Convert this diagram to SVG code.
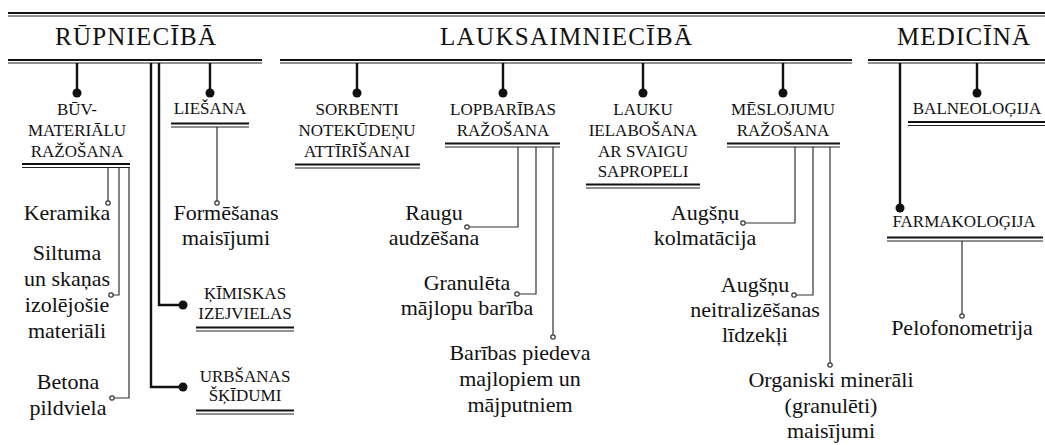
<svg xmlns="http://www.w3.org/2000/svg" width="1045" height="445" viewBox="0 0 1045 445">
<style>
.hd{font-family:"Liberation Serif","Times New Roman",serif;font-size:25px;fill:#111;text-anchor:middle}
.nd{font-family:"Liberation Serif","Times New Roman",serif;font-size:17px;fill:#111;text-anchor:middle}
.lf{font-family:"Liberation Serif","Times New Roman",serif;font-size:22px;fill:#111;text-anchor:middle}
.r1{stroke:#111;stroke-width:2;fill:none}
.r2{stroke:#222;stroke-width:1.2;fill:none}
.st{stroke:#111;stroke-width:2.4;fill:none}
.th{stroke:#333;stroke-width:1.2;fill:none}
.dot{fill:#111}
.oc{fill:#fff;stroke:#333;stroke-width:1.2}
</style>
<rect width="1045" height="445" fill="#fff"/>
<g id="top-rule">
<line class="r1" x1="8" y1="13" x2="1045" y2="13"/>
<line class="r2" x1="8" y1="16" x2="1045" y2="16"/>
</g>
<g id="h-rupnieciba">
<text class="hd" x="135.5" y="45" textLength="161" lengthAdjust="spacing">RŪPNIECĪBĀ</text>
<line class="r1" x1="8" y1="60" x2="262" y2="60"/>
<line class="r2" x1="8" y1="63" x2="262" y2="63"/>
</g>
<g id="h-lauksaimnieciba">
<text class="hd" x="566" y="45" textLength="252" lengthAdjust="spacing">LAUKSAIMNIECĪBĀ</text>
<line class="r1" x1="280" y1="60" x2="852" y2="60"/>
<line class="r2" x1="280" y1="63" x2="852" y2="63"/>
</g>
<g id="h-medicina">
<text class="hd" x="963.5" y="45" textLength="133" lengthAdjust="spacing">MEDICĪNĀ</text>
<line class="r1" x1="868" y1="60" x2="1045" y2="60"/>
<line class="r2" x1="868" y1="63" x2="1045" y2="63"/>
</g>
<g id="connectors">
<path class="st" d="M77 63V93M210 63V93M159 63V305H183M151 63V387H183M357 63V93M503 63V93M643 63V93M783 63V93M900 63V208M977 63V93"/>
<circle class="dot" cx="77" cy="93" r="4.5"/>
<circle class="dot" cx="210" cy="93" r="4.5"/>
<circle class="dot" cx="183" cy="305" r="4.5"/>
<circle class="dot" cx="183" cy="387" r="4.5"/>
<circle class="dot" cx="357" cy="93" r="4.5"/>
<circle class="dot" cx="503" cy="93" r="4.5"/>
<circle class="dot" cx="643" cy="93" r="4.5"/>
<circle class="dot" cx="783" cy="93" r="4.5"/>
<circle class="dot" cx="900" cy="208" r="4.5"/>
<circle class="dot" cx="977" cy="93" r="4.5"/>
<path class="th" d="M108 167V201M119 167V295H113.2M129 167V398H114.2M217 127V201M518 147V227H469.2M536 147V294H519.2M553 147V334.8M795 147V223H745.2M813 147V295H796.2M830 147V362.8M962 241V313.8"/>
<circle class="oc" cx="108" cy="203" r="2.2"/>
<circle class="oc" cx="111" cy="295" r="2.2"/>
<circle class="oc" cx="112" cy="398" r="2.2"/>
<circle class="oc" cx="217" cy="203" r="2.2"/>
<circle class="oc" cx="467" cy="227" r="2.2"/>
<circle class="oc" cx="517" cy="294" r="2.2"/>
<circle class="oc" cx="553" cy="337" r="2.2"/>
<circle class="oc" cx="743" cy="223" r="2.2"/>
<circle class="oc" cx="794" cy="295" r="2.2"/>
<circle class="oc" cx="830" cy="365" r="2.2"/>
<circle class="oc" cx="962" cy="316" r="2.2"/>
</g>
<g id="n-buvmaterialu">
<text class="nd" x="77" y="115">BŪV-</text>
<text class="nd" x="77" y="136">MATERIĀLU</text>
<text class="nd" x="77" y="157">RAŽOŠANA</text>
<line class="r1" x1="22" y1="164" x2="130" y2="164"/>
<line class="r2" x1="22" y1="167.5" x2="130" y2="167.5"/>
</g>
<g id="n-liesana">
<text class="nd" x="210" y="114">LIEŠANA</text>
<line class="r1" x1="171" y1="123.5" x2="249" y2="123.5"/>
<line class="r2" x1="171" y1="127" x2="249" y2="127"/>
</g>
<g id="n-kimiskas">
<text class="nd" x="245" y="299">ĶĪMISKAS</text>
<text class="nd" x="245" y="319">IZEJVIELAS</text>
<line class="r1" x1="196" y1="327.5" x2="294" y2="327.5"/>
<line class="r2" x1="196" y1="331" x2="294" y2="331"/>
</g>
<g id="n-urbsanas">
<text class="nd" x="245" y="382">URBŠANAS</text>
<text class="nd" x="245" y="401">ŠĶĪDUMI</text>
<line class="r1" x1="196" y1="410.5" x2="294" y2="410.5"/>
<line class="r2" x1="196" y1="414" x2="294" y2="414"/>
</g>
<g id="l-keramika"><text class="lf" x="67" y="220">Keramika</text></g>
<g id="l-siltuma">
<text class="lf" x="67" y="260">Siltuma</text>
<text class="lf" x="67" y="286">un skaņas</text>
<text class="lf" x="67" y="312">izolējošie</text>
<text class="lf" x="67" y="338">materiāli</text>
</g>
<g id="l-betona">
<text class="lf" x="68" y="389">Betona</text>
<text class="lf" x="68" y="415">pildviela</text>
</g>
<g id="l-formesanas">
<text class="lf" x="226" y="220">Formēšanas</text>
<text class="lf" x="226" y="245">maisījumi</text>
</g>
<g id="n-sorbenti">
<text class="nd" x="357" y="115">SORBENTI</text>
<text class="nd" x="357" y="136">NOTEKŪDEŅU</text>
<text class="nd" x="357" y="157">ATTĪRĪŠANAI</text>
<line class="r1" x1="295" y1="164.5" x2="420" y2="164.5"/>
<line class="r2" x1="295" y1="168" x2="420" y2="168"/>
</g>
<g id="n-lopbaribas">
<text class="nd" x="503" y="115">LOPBARĪBAS</text>
<text class="nd" x="503" y="136">RAŽOŠANA</text>
<line class="r1" x1="445" y1="143.5" x2="560" y2="143.5"/>
<line class="r2" x1="445" y1="147" x2="560" y2="147"/>
</g>
<g id="n-lauku">
<text class="nd" x="643" y="115">LAUKU</text>
<text class="nd" x="643" y="136">IELABOŠANA</text>
<text class="nd" x="643" y="157">AR SVAIGU</text>
<text class="nd" x="643" y="177">SAPROPELI</text>
<line class="r1" x1="586" y1="184.5" x2="700" y2="184.5"/>
<line class="r2" x1="586" y1="188" x2="700" y2="188"/>
</g>
<g id="n-meslojumu">
<text class="nd" x="783" y="115">MĒSLOJUMU</text>
<text class="nd" x="783" y="136">RAŽOŠANA</text>
<line class="r1" x1="727" y1="143.5" x2="840" y2="143.5"/>
<line class="r2" x1="727" y1="147" x2="840" y2="147"/>
</g>
<g id="l-raugu">
<text class="lf" x="434" y="220">Raugu</text>
<text class="lf" x="434" y="245">audzēšana</text>
</g>
<g id="l-granuleta">
<text class="lf" x="467" y="290">Granulēta</text>
<text class="lf" x="467" y="315">mājlopu barība</text>
</g>
<g id="l-baribas">
<text class="lf" x="520" y="360">Barības piedeva</text>
<text class="lf" x="520" y="386">majlopiem un</text>
<text class="lf" x="520" y="412">mājputniem</text>
</g>
<g id="l-kolmatacija">
<text class="lf" x="705" y="220">Augšņu</text>
<text class="lf" x="705" y="245">kolmatācija</text>
</g>
<g id="l-neitralizesanas">
<text class="lf" x="755" y="292">Augšņu</text>
<text class="lf" x="755" y="317">neitralizēšanas</text>
<text class="lf" x="755" y="342">līdzekļi</text>
</g>
<g id="l-organiski">
<text class="lf" x="831" y="387">Organiski minerāli</text>
<text class="lf" x="831" y="413">(granulēti)</text>
<text class="lf" x="831" y="438">maisījumi</text>
</g>
<g id="n-balneologija">
<text class="nd" x="977" y="114">BALNEOLOĢIJA</text>
<line class="r1" x1="908" y1="122" x2="1045" y2="122"/>
<line class="r2" x1="908" y1="125.5" x2="1045" y2="125.5"/>
</g>
<g id="n-farmakologija">
<text class="nd" x="964" y="227">FARMAKOLOĢIJA</text>
<line class="r1" x1="887" y1="237.5" x2="1043" y2="237.5"/>
<line class="r2" x1="887" y1="241" x2="1043" y2="241"/>
</g>
<g id="l-pelofonometrija"><text class="lf" x="962" y="335">Pelofonometrija</text></g>
</svg>
